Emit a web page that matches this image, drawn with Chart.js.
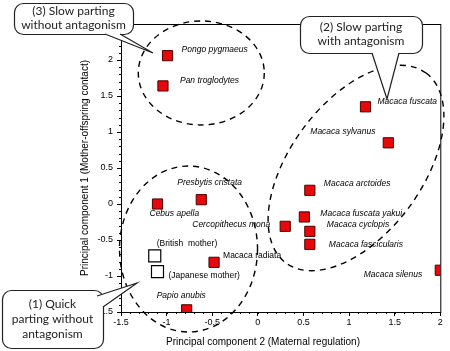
<!DOCTYPE html>
<html lang="en">
<head>
    <meta charset="UTF-8">
    <title>Primate parting PCA</title>
    <script src="https://cdn.jsdelivr.net/npm/chart.js"></script>
    <style>
        html, body { margin: 0; padding: 0; background: #fff; }
        #wrap { width: 450px; height: 351px; }
    </style>
</head>
<body>
    <div id="wrap"><canvas id="myChart"></canvas></div>

    <script>
        // species scores (x = PC2 maternal regulation, y = PC1 mother-offspring contact)
        const species = ['Pongo pygmaeus', 'Pan troglodytes', 'Macaca fuscata', 'Macaca sylvanus',
            'Macaca arctoides', 'Macaca fuscata yakui', 'Cercopithecus mona', 'Macaca cyclopis',
            'Macaca fascicularis', 'Macaca silenus', 'Presbytis cristata', 'Cebus apella',
            'Macaca radiata', 'Papio anubis'];
        const pc2 = [-0.99, -1.04, 1.18, 1.43, 0.57, 0.51, 0.30, 0.57, 0.57, 2.0, -0.62, -1.10, -0.48, -0.78];
        const pc1 = [2.06, 1.64, 1.35, 0.85, 0.19, -0.18, -0.31, -0.38, -0.56, -0.92, 0.06, 0.0, -0.81, -1.47];

        // human mothers (open squares)
        const humans = ['(British  mother)', '(Japanese mother)'];
        const humanPc2 = [-1.13, -1.10];
        const humanPc1 = [-0.72, -0.94];

        const xTicks = [-1.5, -1, -0.5, 0, 0.5, 1, 1.5, 2];
        const yTicks = [-1.5, -1, -0.5, 0, 0.5, 1, 1.5, 2];

        // label offsets from the marker, in pixels
        const labelPos = {
            'Pongo pygmaeus': [14, -6, 'left', true],
            'Pan troglodytes': [17, -5, 'left', true],
            'Macaca fuscata': [12, -5, 'left', true],
            'Macaca sylvanus': [-78, -11, 'left', true],
            'Macaca arctoides': [14, -7, 'left', true],
            'Macaca fuscata yakui': [16, -3, 'left', true],
            'Cercopithecus mona': [-15, -2, 'right', true],
            'Macaca cyclopis': [17, -7, 'left', true],
            'Macaca fascicularis': [19, 0, 'left', true],
            'Macaca silenus': [-18, 4, 'right', true],
            'Presbytis cristata': [-24, -17, 'left', true],
            'Cebus apella': [-8, 10, 'left', true],
            'Macaca radiata': [9, -7, 'left', false],
            'Papio anubis': [-30, -14, 'left', true],
            '(British  mother)': [2, -12, 'left', false],
            '(Japanese mother)': [11, 4, 'left', false]
        };

        // dashed group outlines: centre in data units, radii in px
        const groups = [
            { cx: -0.62, cy: 1.82, rx: 63, ry: 52, rot: 0 },
            { cx: -0.76, cy: -0.625, rx: 69, ry: 83, rot: 0 },
            { cx: 1.076, cy: 0.5, rx: 118, ry: 66, rot: -53.6 }
        ];

        // speech-bubble callouts (canvas px)
        const callouts = [
            { lines: ['(3) Slow parting', 'without antagonism'], x: 14, y: 3, w: 119, h: 31,
              tail: [[105, 34], [153, 53], [120, 34]] },
            { lines: ['(2) Slow parting', 'with antagonism'], x: 300, y: 16, w: 122, h: 37,
              tail: [[372, 53], [387, 99], [399, 53]] },
            { lines: ['(1) Quick', 'parting without', 'antagonism'], x: 2, y: 290, w: 101, h: 58,
              tail: [[97, 296], [137, 283], [103, 307]] }
        ];

        const overlay = {
            id: 'overlay',
            afterDatasetsDraw(chart) {
                const ctx = chart.ctx;
                const xs = chart.scales.x, ys = chart.scales.y;
                const a = chart.chartArea;
                ctx.save();
                // frame
                ctx.strokeStyle = '#000';
                ctx.lineWidth = 1;
                ctx.strokeRect(a.left + 0.5, a.top + 0.5, a.right - a.left, a.bottom - a.top);
                // minor ticks
                ctx.beginPath();
                for (let i = -15; i <= 20; i++) {
                    const px = Math.round(xs.getPixelForValue(i / 10)) + 0.5;
                    ctx.moveTo(px, a.bottom); ctx.lineTo(px, a.bottom + 2);
                }
                for (let i = -15; i <= 25; i++) {
                    const py = Math.round(ys.getPixelForValue(i / 10)) + 0.5;
                    ctx.moveTo(a.left, py); ctx.lineTo(a.left - 2, py);
                }
                ctx.stroke();

                // ellipses
                ctx.setLineDash([6, 5]);
                ctx.lineWidth = 1.4;
                groups.forEach(g => {
                    ctx.beginPath();
                    ctx.ellipse(xs.getPixelForValue(g.cx), ys.getPixelForValue(g.cy), g.rx, g.ry,
                        g.rot * Math.PI / 180, 0, Math.PI * 2);
                    ctx.stroke();
                });
                ctx.setLineDash([]);

                // point labels
                ctx.fillStyle = '#000';
                ctx.textBaseline = 'middle';
                const put = (name, x, y) => {
                    const p = labelPos[name];
                    ctx.font = (p[3] ? 'italic ' : '') + '8.5px "Liberation Sans", Arial, sans-serif';
                    ctx.textAlign = p[2];
                    ctx.fillText(name, xs.getPixelForValue(x) + p[0], ys.getPixelForValue(y) + p[1]);
                };
                species.forEach((s, i) => put(s, pc2[i], pc1[i]));
                humans.forEach((s, i) => put(s, humanPc2[i], humanPc1[i]));

                // axis titles
                ctx.font = '10px "Liberation Sans", Arial, sans-serif';
                ctx.textAlign = 'center';
                ctx.fillText('Principal component 2 (Maternal regulation)', 263, 342);
                ctx.save();
                ctx.translate(85, (a.top + a.bottom) / 2);
                ctx.rotate(-Math.PI / 2);
                ctx.fillText('Principal component 1 (Mother-offspring contact)', 0, 0);
                ctx.restore();

                // callouts
                callouts.forEach(c => {
                    ctx.lineWidth = 1.2;
                    ctx.strokeStyle = '#222';
                    ctx.fillStyle = '#fff';
                    ctx.beginPath();
                    ctx.roundRect(c.x + 0.5, c.y + 0.5, c.w, c.h, 9);
                    ctx.fill();
                    ctx.stroke();
                    const t = c.tail;
                    ctx.beginPath();
                    ctx.moveTo(t[0][0], t[0][1]);
                    ctx.lineTo(t[1][0], t[1][1]);
                    ctx.lineTo(t[2][0], t[2][1]);
                    ctx.closePath();
                    ctx.fill();
                    ctx.beginPath();
                    ctx.moveTo(t[0][0], t[0][1]);
                    ctx.lineTo(t[1][0], t[1][1]);
                    ctx.lineTo(t[2][0], t[2][1]);
                    ctx.stroke();
                    ctx.fillStyle = '#222';
                    ctx.font = '12px Lato, "Open Sans", sans-serif';
                    ctx.textAlign = 'center';
                    const lh = c.lines.length > 2 ? 15 : 14;
                    const y0 = c.y + c.h / 2 - (c.lines.length - 1) * lh / 2;
                    c.lines.forEach((l, i) => ctx.fillText(l, c.x + c.w / 2, y0 + i * lh));
                });
                ctx.restore();
            }
        };

        const ctx = document.getElementById('myChart').getContext('2d');
        const myChart = new Chart(ctx, {
            type: 'scatter',
            data: {
                datasets: [{
                    label: 'Species',
                    data: species.map((s, i) => ({ x: pc2[i], y: pc1[i] })),
                    pointStyle: 'rect',
                    pointRadius: 7.2,
                    backgroundColor: '#e8070b',
                    borderColor: '#4a0000',
                    borderWidth: 1
                }, {
                    label: 'Human mothers',
                    data: humans.map((s, i) => ({ x: humanPc2[i], y: humanPc1[i] })),
                    pointStyle: 'rect',
                    pointRadius: 8.5,
                    backgroundColor: '#fff',
                    borderColor: '#000',
                    borderWidth: 1.2
                }]
            },
            options: {
                responsive: true,
                maintainAspectRatio: false,
                animation: false,
                layout: { padding: { left: 0, top: 24, right: 6, bottom: 0 } },
                plugins: { legend: { display: false }, tooltip: { enabled: false } },
                scales: {
                    x: {
                        min: -1.5, max: 2,
                        afterBuildTicks: s => { s.ticks = xTicks.map(v => ({ value: v })); },
                        afterFit: s => { s.height = 39; },
                        grid: { drawOnChartArea: false, tickLength: 4, color: '#000' },
                        border: { color: '#000' },
                        ticks: { color: '#000', padding: 1, maxRotation: 0, callback: v => String(v),
                            font: { family: '"Liberation Sans", Arial, sans-serif', size: 9 } }
                    },
                    y: {
                        min: -1.5, max: 2.5,
                        afterBuildTicks: s => { s.ticks = yTicks.map(v => ({ value: v })); },
                        afterFit: s => { s.width = 121; },
                        grid: { drawOnChartArea: false, tickLength: 4, color: '#000' },
                        border: { color: '#000' },
                        ticks: { color: '#000', padding: 4, callback: v => String(v),
                            font: { family: '"Liberation Sans", Arial, sans-serif', size: 9 } }
                    }
                }
            },
            plugins: [overlay]
        });
    </script>
</body>
</html>
